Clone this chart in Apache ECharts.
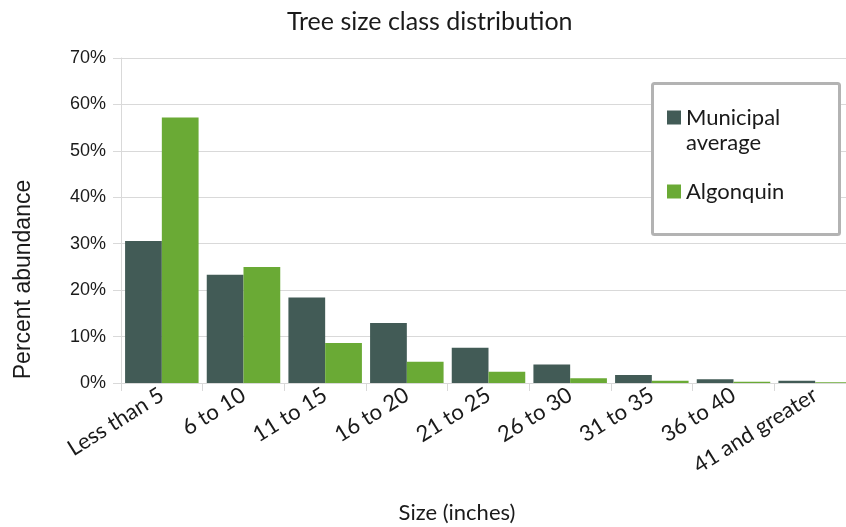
<!DOCTYPE html>
<html>
<head>
<meta charset="utf-8">
<script src="https://cdn.jsdelivr.net/npm/echarts@6/dist/echarts.min.js"></script>
<style>html,body{margin:0;padding:0;background:#fff}#c{width:846px;height:527px}</style>
</head>
<body>
<div id="c"></div>
<script>
const categories = ['Less than 5','6 to 10','11 to 15','16 to 20','21 to 25','26 to 30','31 to 35','36 to 40','41 and greater'];
const municipal = [30.6, 23.3, 18.4, 12.9, 7.6, 4.0, 1.7, 0.8, 0.5];
const algonquin = [57.2, 25.0, 8.6, 4.6, 2.4, 1.0, 0.5, 0.25, 0.15];
const yTicks = [0, 10, 20, 30, 40, 50, 60, 70];

const chart = echarts.init(document.getElementById('c'), null, {renderer: 'canvas'});
const txt = '#1a1a1a';
chart.setOption({
  animation: false,
  backgroundColor: '#fff',
  title: {
    text: 'Tree size class distribution',
    left: 282, top: 4,
    textStyle: {fontFamily: 'Lato', fontSize: 25, fontWeight: 'normal', color: txt}
  },
  graphic: [{
    type: 'rect', left: 651, top: 82, z: 5,
    shape: {width: 187, height: 151, r: 2},
    style: {fill: '#fff', stroke: '#b3b3b3', lineWidth: 3}
  }],
  legend: {
    orient: 'vertical', left: 667, top: 80, z: 10, padding: 0,
    itemWidth: 14, itemHeight: 14, itemGap: 24,
    icon: 'rect',
    formatter: n => n === 'Municipal average' ? '\nMunicipal\naverage' : n,
    textStyle: {fontFamily: 'Lato', fontSize: 22, color: txt, lineHeight: 25},
    data: ['Municipal average', 'Algonquin']
  },
  grid: {left: 121, right: -10, top: 58, bottom: 144, containLabel: false, outerBoundsMode: 'none'},
  xAxis: {
    type: 'category', data: categories,
    name: 'Size (inches)', nameLocation: 'middle', nameGap: 119,
    nameTextStyle: {fontFamily: 'Lato', fontSize: 22, color: txt, padding: [0, 63, 0, 0]},
    axisLine: {lineStyle: {color: '#d9d9d9'}},
    axisTick: {show: true, length: 8, lineStyle: {color: '#d9d9d9'}},
    axisLabel: {rotate: 32, fontFamily: 'Lato', fontSize: 22, color: txt, margin: 10}
  },
  yAxis: {
    type: 'value', min: 0, max: 70, interval: 10,
    name: 'Percent abundance', nameLocation: 'middle', nameRotate: 90, nameGap: 86,
    nameTextStyle: {fontFamily: 'Liberation Sans', fontSize: 23, color: txt, padding: [0, 118, 0, 0]},
    axisLine: {show: true, lineStyle: {color: '#d9d9d9'}},
    axisTick: {show: true, length: 8, lineStyle: {color: '#d9d9d9'}},
    splitLine: {lineStyle: {color: '#d9d9d9'}},
    axisLabel: {
      fontFamily: 'Liberation Sans', fontSize: 18, color: txt, margin: 15,
      formatter: v => yTicks.includes(v) ? v + '%' : ''
    }
  },
  series: [
    {name: 'Municipal average', type: 'bar', data: municipal, barGap: '0%', barCategoryGap: '10%',
     itemStyle: {color: '#425b56'}},
    {name: 'Algonquin', type: 'bar', data: algonquin, barGap: '0%', barCategoryGap: '10%',
     itemStyle: {color: '#6aaa35'}}
  ]
});
</script>
</body>
</html>
